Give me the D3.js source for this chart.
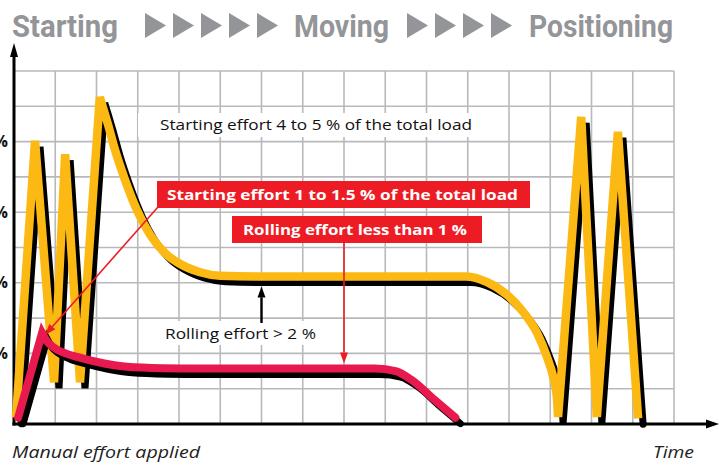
<!DOCTYPE html>
<html><head><meta charset="utf-8">
<script src="https://cdn.jsdelivr.net/npm/d3@7"></script>
<style>html,body{margin:0;padding:0;background:#fff;} svg{display:block}</style>
</head><body>
<svg id="c" width="728" height="463"></svg>
<script>
// ---- data (x: time in grid units, y: effort in % of total load) ----
const yTicks = [1, 2, 3, 4];
const yTickLabels = ["1 %", "2 %", "3 %", "4 %"];
const titleWords = ["Starting", "Moving", "Positioning"];
const titleArrowCounts = [5, 4];

const yellowStart = [[0.05,0.09],[0.51,4.01],[0.97,0.59],[1.24,3.82],[1.60,0.59],[2.08,4.63]];
const yellowMove = [[2.08,4.63],[2.28,4.24],[2.45,3.88],[2.69,3.46],[2.98,3.03],[3.30,2.68],[3.66,2.42],[4.02,2.27],[4.51,2.15],[5.0,2.10],[6.0,2.09],[10.95,2.09],[11.47,2.01],[11.95,1.83],[12.34,1.59],[12.68,1.29],[12.92,0.95],[13.07,0.67],[13.16,0.38],[13.19,0.10]];
const yellowPosition = [[13.19,0.10],[13.75,4.35],[14.13,0.10],[14.64,4.14],[15.13,0.08]];

const redStart = [[0.10,0.09],[0.68,1.29]];
const redMove = [[0.68,1.29],[0.80,1.17],[0.95,1.09],[1.25,1.00],[1.53,0.95],[2.16,0.86],[2.74,0.81],[3.6,0.79],[4.5,0.785],[8.75,0.785],[9.25,0.75],[9.65,0.62],[10.2,0.34],[10.7,0.09]];

const noteTexts = ["Starting effort 4 to 5 % of the total load", "Rolling effort > 2 %"];
const boxTexts = ["Starting effort 1 to 1.5 % of the total load", "Rolling effort less than 1 %"];
const axisTexts = ["Manual effort applied", "Time"];

// ---- drawing ----
const svg = d3.select("#c");
const x = d3.scaleLinear([0, 16], [14, 674]);
const y = d3.scaleLinear([0, 5], [424, 71]);
const GREY = "#939598", YEL = "#FDB913", CRIMSON = "#E8194F", RED = "#ED1C24";

// grid
const grid = svg.append("g").attr("stroke", "#b8b9bc").attr("stroke-width", 1.6);
grid.selectAll("line.v").data(d3.range(1, 17)).join("line")
  .attr("x1", d => x(d)).attr("x2", d => x(d)).attr("y1", y(0)).attr("y2", y(5));
grid.selectAll("line.h").data(d3.range(1, 11).map(i => i * 0.5)).join("line")
  .attr("x1", x(0)).attr("x2", x(16)).attr("y1", d => y(d)).attr("y2", d => y(d));

// white backgrounds for notes
svg.append("rect").attr("x", 138).attr("y", 113).attr("width", 356).attr("height", 24).attr("fill", "#fff");
svg.append("rect").attr("x", 145).attr("y", 321).attr("width", 191).attr("height", 24).attr("fill", "#fff");

// axes
svg.append("line").attr("x1", x(0)).attr("x2", x(0)).attr("y1", y(0) + 1.5).attr("y2", 52)
  .attr("stroke", "#000").attr("stroke-width", 3);
svg.append("line").attr("x1", x(0) - 1.5).attr("x2", 710).attr("y1", y(0)).attr("y2", y(0))
  .attr("stroke", "#000").attr("stroke-width", 3);
svg.append("path").attr("d", `M${x(0)},43 L${x(0)+4},57 L${x(0)-4},57 Z`).attr("fill", "#000");
svg.append("path").attr("d", `M719,${y(0)} L706,${y(0)-4.5} L706,${y(0)+4.5} Z`).attr("fill", "#000");

// y labels (partly cut by the left edge, as in the original)
svg.append("g").selectAll("text").data(yTicks).join("text")
  .attr("x", 8).attr("y", d => y(d) + 5.5).attr("text-anchor", "end")
  .attr("font-family", "Open Sans").attr("font-weight", 700).attr("font-size", 16).attr("fill", "#111")
  .text((d, i) => yTickLabels[i]);

// curves
function buildPath(segs) {
  let out = "";
  segs.forEach((s, i) => {
    const p = d3.line().x(d => x(d[0])).y(d => y(d[1])).curve(s.curve)(s.pts);
    out += i === 0 ? p : p.replace(/^M[^A-Za-z]*/, "");
  });
  return out;
}
const yellowD = buildPath([
  {curve: d3.curveLinear, pts: yellowStart},
  {curve: d3.curveMonotoneX, pts: yellowMove},
  {curve: d3.curveLinear, pts: yellowPosition}
]);
const redD = buildPath([
  {curve: d3.curveLinear, pts: redStart},
  {curve: d3.curveMonotoneX, pts: redMove}
]);

svg.append("path").attr("d", yellowD).attr("fill", "none").attr("stroke", "#000")
  .attr("stroke-width", 7).attr("stroke-linecap", "round").attr("transform", "translate(5,6)");
svg.append("path").attr("d", yellowD).attr("fill", "none").attr("stroke", YEL).attr("stroke-width", 8.5);
svg.append("path").attr("d", redD).attr("fill", "none").attr("stroke", "#000")
  .attr("stroke-width", 7).attr("stroke-linecap", "round").attr("transform", "translate(5,6)");
svg.append("path").attr("d", redD).attr("fill", "none").attr("stroke", CRIMSON)
  .attr("stroke-width", 8).attr("stroke-linecap", "round");

// arrows
function arrow(x1, y1, x2, y2, color, w, len, half) {
  const a = Math.atan2(y2 - y1, x2 - x1);
  const bx = x2 - len * Math.cos(a), by = y2 - len * Math.sin(a);
  svg.append("line").attr("x1", x1).attr("y1", y1).attr("x2", bx).attr("y2", by)
    .attr("stroke", color).attr("stroke-width", w);
  const px = -Math.sin(a) * half, py = Math.cos(a) * half;
  svg.append("path").attr("d", `M${x2},${y2} L${bx+px},${by+py} L${bx-px},${by-py} Z`).attr("fill", color);
}
const peak = redStart[redStart.length - 1];
arrow(158, 207, x(peak[0]) + 3, y(peak[1]) + 2, RED, 1.6, 11, 4);
arrow(x(8), 243, x(8), y(0.785) - 5, RED, 1.6, 11, 4);
arrow(x(6), 323, x(6), y(2.09) + 10, "#000", 2.4, 11, 4);

// annotation boxes
svg.append("rect").attr("x", 157).attr("y", 181).attr("width", 373).attr("height", 27).attr("fill", RED);
svg.append("rect").attr("x", 232).attr("y", 216).attr("width", 250).attr("height", 27).attr("fill", RED);
svg.append("text").attr("x", 167).attr("y", 200).attr("font-family", "Open Sans").attr("font-weight", 700)
  .attr("font-size", 15).attr("fill", "#fff").attr("textLength", 351).attr("lengthAdjust", "spacingAndGlyphs").text(boxTexts[0]);
svg.append("text").attr("x", 243).attr("y", 235).attr("font-family", "Open Sans").attr("font-weight", 700)
  .attr("font-size", 15).attr("fill", "#fff").attr("textLength", 224).attr("lengthAdjust", "spacingAndGlyphs").text(boxTexts[1]);

// notes
svg.append("text").attr("x", 160).attr("y", 130).attr("font-family", "Open Sans").attr("font-size", 15)
  .attr("fill", "#111").attr("textLength", 312).attr("lengthAdjust", "spacingAndGlyphs").text(noteTexts[0]);
svg.append("text").attr("x", 165).attr("y", 339).attr("font-family", "Open Sans").attr("font-size", 15)
  .attr("fill", "#111").attr("textLength", 151).attr("lengthAdjust", "spacingAndGlyphs").text(noteTexts[1]);

// axis captions
svg.append("text").attr("x", 12).attr("y", 458).attr("font-family", "Open Sans").attr("font-style", "italic")
  .attr("font-size", 17).attr("fill", "#222").attr("textLength", 188).attr("lengthAdjust", "spacingAndGlyphs").text(axisTexts[0]);
svg.append("text").attr("x", 653).attr("y", 458).attr("font-family", "Open Sans").attr("font-style", "italic")
  .attr("font-size", 17).attr("fill", "#222").attr("textLength", 41).attr("lengthAdjust", "spacingAndGlyphs").text(axisTexts[1]);

// title
const wordPos = [[12, 106], [294, 95], [529, 144]];
titleWords.forEach((w, i) => {
  svg.append("text").attr("x", wordPos[i][0]).attr("y", 37).attr("font-family", "Roboto").attr("font-weight", 700)
    .attr("font-size", 31).attr("fill", GREY).attr("textLength", wordPos[i][1]).attr("lengthAdjust", "spacingAndGlyphs").text(w);
});
const arrowStarts = [145, 407];
titleArrowCounts.forEach((n, g) => {
  d3.range(n).forEach(k => {
    const l = arrowStarts[g] + k * 28;
    svg.append("path").attr("d", `M${l},13 L${l+21},25.5 L${l},38 Z`).attr("fill", GREY);
  });
});
</script>
</body></html>
